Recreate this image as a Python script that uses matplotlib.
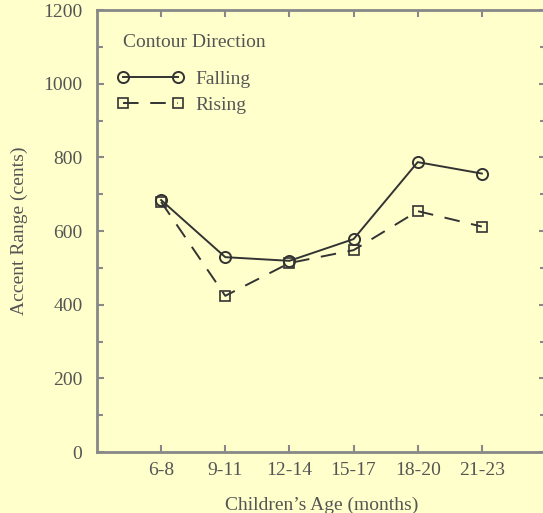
import matplotlib.pyplot as plt

ages = ["6-8", "9-11", "12-14", "15-17", "18-20", "21-23"]
falling = [684, 529, 519, 578, 787, 756]
rising = [679, 424, 513, 548, 654, 612]

bg = "#ffffcc"
ink = "#555555"
plt.rcParams['font.family'] = ['Liberation Serif', 'DejaVu Serif']
plt.rcParams['text.color'] = ink

fig = plt.figure(figsize=(5.43, 5.13), dpi=100, facecolor=bg)
ax = fig.add_axes([0.1786, 0.1189, 0.8269, 0.8616], facecolor=bg)

pos = list(range(1, len(ages) + 1))
ax.plot(pos, falling, color="#333333", lw=1.4, marker="o", ms=8,
        mfc="none", mec="#333333", mew=1.4, label="Falling")
ax.plot(pos, rising, color="#333333", lw=1.4, dashes=(8, 6), marker="s", ms=7,
        mfc="none", mec="#333333", mew=1.2, label="Rising")

ax.set_xlim(0, 7)
ax.set_ylim(0, 1200)
ax.set_xticks(pos)
ax.set_xticklabels(ages)
ax.set_yticks(range(0, 1201, 200))
ax.set_yticks(range(100, 1200, 200), minor=True)
ax.tick_params(which="both", direction="in", top=True, right=True,
               colors="#888888", labelcolor=ink, labelsize=14, width=1.5)
ax.tick_params(which="major", length=5)
ax.tick_params(axis="y", which="major", pad=10.5)
ax.tick_params(axis="x", which="major", pad=7)
ax.tick_params(which="minor", length=4)
for s in ax.spines.values():
    s.set_color("#888888")
    s.set_linewidth(2)

ax.set_xlabel("Children’s Age (months)", fontsize=14, color=ink, labelpad=13)
ax.set_ylabel("Accent Range (cents)", fontsize=14, color=ink, labelpad=11)

ax.text(0.058, 0.9276, "Contour Direction", transform=ax.transAxes,
        fontsize=14, color=ink, ha="left", va="center")
leg = ax.legend(loc="upper left", bbox_to_anchor=(0.045, 0.864),
                borderaxespad=0, borderpad=0, frameon=False, fontsize=14,
                handlelength=3.43, handletextpad=0.6, numpoints=2,
                labelspacing=0.45)
for t in leg.get_texts():
    t.set_color(ink)

fig.savefig("out.png", dpi=100, facecolor=bg)
